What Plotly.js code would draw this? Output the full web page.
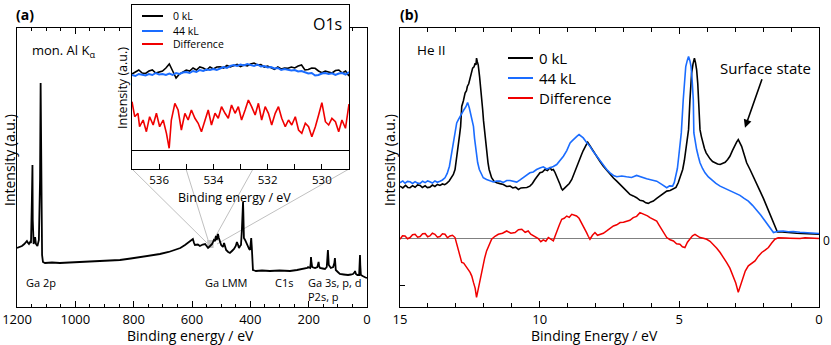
<!DOCTYPE html>
<html><head><meta charset="utf-8">
<script src="https://cdn.plot.ly/plotly-3.0.1.min.js"></script>
<style>html,body{margin:0;padding:0;background:#fff}#chart{width:831px;height:345px}</style>
</head><body><div id="chart"></div>
<script>
// ---------- Panel (a): survey spectrum (Binding energy eV, intensity a.u.) ----------
const surveyE = [1200,1190,1183,1175,1166,1162,1159,1155,1152,1149,1147,1146,1143,1140,1138,1135,1130,1125,1121,1119,1117,1114,1111,1104,1080,1053,1020,984,950,915,880,847,810,778,745,710,680,658,640,624,607,600,597,593,590,580,573,563,555,550,545,538,531,528,525,521,518,515,511,508,504,500,494,490,486,483,476,470,463,456,450,446,442,439,435,432,429,426,425,424,423,422,418,415,411,408,404,401,399,397,395,394,391,386,381,360,333,300,264,240,213,205,202,198,195,193,192,191,188,183,178,170,167,166,164,161,152,144,138,135,134,133,131,127,124,116,112,110,109,107,100,93,80,65,55,48,42,41,38,33,27,25,24,23,21,15,10,5,0];
const surveyI = [59,60,61,63,66,64,63,65,64,107,142,87,63,66,70,63,61,67,127,224,107,52,45,44,44.5,44,44.5,45,45.5,46,46.5,47,48.5,50,51,53,55,57,59,62,66,67,68,64,62,62.5,61,62.5,63,61,59,61,63,65,67,66,71,67,73,69,64,62,60,64,60,57,55,54,56,58,61,65,62,59,61,62,77,100,105,95,82,69,67,65,62,59,58,57,62,69,60,52,37,36.5,36,36.5,36,36.5,36,37,38,39,40,39.5,39,44,50,46,40,39.5,39,40,44,45,41,39,38.5,38,40,50,57,52,42,40,39,40,44,49,45,37,35,33,32.5,32,32.5,33,35,36,33,32,32,40,52,42,32,31,30,29.5,29];

// ---------- Inset: O1s region ----------
const o1sE = [537.000,536.875,536.750,536.625,536.500,536.375,536.250,536.125,536.000,535.875,535.750,535.625,535.500,535.375,535.250,535.125,535.000,534.875,534.750,534.625,534.500,534.375,534.250,534.125,534.000,533.875,533.750,533.625,533.500,533.375,533.250,533.125,533.000,532.875,532.750,532.625,532.500,532.375,532.250,532.125,532.000,531.875,531.750,531.625,531.500,531.375,531.250,531.125,531.000,530.875,530.750,530.625,530.500,530.375,530.250,530.125,530.000,529.875,529.750,529.625,529.500,529.375,529.250,529.125,529.000];
const o1s0kL = [76,78,80,77,76.5,79,80,77,78,79,82,86,79,72,76,78,80,79,82,80,83,82,80,83,81,83,83.3,82,84.5,83,84,85.5,83.5,85,84,86,87,85,85.5,83,84,82,80.7,83,81,82,81.7,83,82,84,85,80,80.5,82,81.7,79,77.3,79,78.3,77,79.5,80,77,79,74];
const o1s44kL = [75,74,76,75,74.5,76,75,77,75.5,76,75,76.5,75,77,76,77.5,78,77,79,78,80,79,80.5,80,81,80,81.7,83,82,84,85,84,85.5,84.5,86,85,84,85.5,83.5,84,82.5,83,81.5,82,80,81,80,79.5,80,78.5,79,78,76.5,77,74.5,75,76.5,77,76,76.7,75,76.5,77,75.5,78];
const o1sDiffE = [537.00,536.90,536.78,536.72,536.59,536.47,536.35,536.22,536.10,535.98,535.85,535.73,535.63,535.55,535.42,535.30,535.18,535.05,534.93,534.81,534.68,534.56,534.44,534.31,534.19,534.07,533.94,533.82,533.70,533.57,533.45,533.33,533.20,533.08,532.96,532.83,532.71,532.59,532.46,532.34,532.22,532.09,531.97,531.85,531.72,531.60,531.48,531.35,531.23,531.11,530.98,530.86,530.74,530.61,530.49,530.37,530.24,530.12,530.00,529.87,529.75,529.63,529.50,529.38,529.26,529.13,529.00];
const o1sDiff = [48.3,33.3,36.7,23.3,30,18.3,33.3,25,36.7,23.3,30,16.7,1.7,30,46.7,40,20,36.7,30,40,31.7,26.7,18.3,30,40,25,36.7,31.7,43.3,36.7,31.7,45,36.7,43.3,30,40,50,43.3,35,46.7,30,43.3,36.7,25,36.7,43.3,31.7,23.3,30,25,33.3,20,16.7,26.7,23.3,13.3,23.3,35,47.3,28.3,25,31.7,28.3,18.3,30,21.7,46];

// ---------- Panel (b): He II valence band ----------
const vb0E = [15.00,14.90,14.80,14.72,14.64,14.55,14.46,14.37,14.28,14.20,14.10,14.02,13.93,13.84,13.75,13.66,13.57,13.48,13.40,13.33,13.24,13.15,13.09,13.03,12.97,12.91,12.87,12.83,12.79,12.73,12.67,12.62,12.59,12.54,12.49,12.44,12.40,12.35,12.31,12.28,12.26,12.23,12.20,12.15,12.11,12.07,12.04,12.01,11.98,11.94,11.90,11.85,11.81,11.76,11.72,11.63,11.54,11.42,11.30,11.18,11.06,10.96,10.86,10.76,10.67,10.58,10.46,10.35,10.26,10.17,10.08,9.99,9.90,9.81,9.72,9.63,9.57,9.51,9.45,9.39,9.33,9.27,9.22,9.18,9.10,9.03,8.94,8.85,8.77,8.68,8.59,8.50,8.44,8.38,8.33,8.28,8.21,8.14,8.05,7.96,7.84,7.72,7.60,7.48,7.36,7.24,7.12,7.00,6.88,6.77,6.65,6.53,6.41,6.29,6.20,6.11,6.02,5.93,5.81,5.69,5.57,5.45,5.33,5.21,5.12,5.04,4.96,4.88,4.82,4.76,4.71,4.67,4.62,4.56,4.51,4.46,4.42,4.38,4.34,4.31,4.26,4.21,4.16,4.10,4.04,3.97,3.90,3.81,3.72,3.63,3.54,3.45,3.36,3.27,3.19,3.10,3.01,2.95,2.89,2.83,2.77,2.68,2.59,2.47,2.35,2.23,2.11,1.99,1.87,1.75,1.63,1.56,1.49,1.32,1.16,0.98,0.80,0.62,0.44,0.22,0.00];
const vb0I = [52.3,50.5,53.0,51.0,50.7,52.8,51.2,53.5,53.0,51.0,52.6,50.8,51.3,53.4,52.0,54.0,53.0,54.5,53.8,55.0,57.5,60.7,64.0,69.0,80.0,92.3,103.0,112.3,132.3,138.0,145.7,148.0,152.3,155.0,160.7,165.0,170.7,172.0,175.7,174.0,180.7,177.0,174.0,162.0,152.3,140.0,129.0,118.0,109.0,96.0,85.7,76.0,69.0,64.0,60.7,57.0,55.7,54.8,54.0,52.0,52.3,50.5,51.2,49.0,50.5,50.7,51.0,52.3,55.0,59.0,62.0,65.7,66.5,69.0,68.0,70.7,68.5,69.0,66.0,62.3,57.0,54.0,50.0,48.3,50.5,52.3,55.0,59.0,65.0,72.3,78.0,84.0,88.0,92.3,94.0,96.3,93.0,90.7,86.0,82.3,77.0,72.3,68.0,64.0,60.5,57.3,54.0,50.7,47.0,44.0,42.5,40.7,38.0,37.3,35.5,35.0,36.5,37.3,40.0,42.3,45.0,47.3,48.0,49.7,51.0,55.7,62.0,69.0,78.0,89.0,100.0,109.0,139.0,165.7,175.0,180.7,176.0,169.0,155.0,139.0,109.0,102.0,95.7,90.0,85.7,82.0,79.7,77.0,75.7,74.5,74.0,75.5,76.3,79.0,82.3,88.0,94.0,96.5,99.0,96.0,92.3,84.0,75.7,69.0,62.3,55.0,47.3,40.0,32.3,24.0,15.7,11.0,6.3,6.2,5.7,5.4,5.0,4.8,4.7,4.3,4.0];
const vb44E = [15.00,14.90,14.82,14.73,14.64,14.55,14.46,14.37,14.28,14.19,14.10,14.01,13.93,13.84,13.75,13.66,13.57,13.48,13.39,13.31,13.23,13.17,13.11,13.07,13.03,12.97,12.91,12.85,12.78,12.71,12.64,12.58,12.52,12.47,12.42,12.37,12.33,12.28,12.22,12.16,12.09,12.02,11.90,11.78,11.66,11.54,11.42,11.30,11.18,11.06,10.94,10.82,10.70,10.58,10.46,10.35,10.23,10.11,9.99,9.87,9.75,9.63,9.51,9.39,9.27,9.15,9.03,8.91,8.83,8.74,8.66,8.59,8.52,8.44,8.32,8.20,8.08,7.96,7.84,7.72,7.60,7.48,7.36,7.24,7.06,6.89,6.71,6.53,6.35,6.17,5.99,5.81,5.63,5.45,5.35,5.24,5.18,5.12,5.07,5.02,4.97,4.93,4.86,4.77,4.72,4.67,4.62,4.58,4.54,4.50,4.48,4.43,4.38,4.32,4.26,4.17,4.08,3.96,3.84,3.69,3.54,3.37,3.19,3.01,2.83,2.68,2.53,2.38,2.23,2.08,1.93,1.78,1.63,1.46,1.28,1.10,0.92,0.68,0.44,0.22,0.00];
const vb44I = [55.7,57.5,55.2,57.0,56.7,55.0,56.8,55.3,55.0,57.2,55.8,57.5,56.7,55.4,57.5,56.2,57.3,58.5,60.7,65.0,72.3,82.0,92.3,99.0,105.7,115.7,119.0,122.3,126.0,129.0,132.0,136.3,131.0,124.0,118.0,112.3,100.0,85.7,76.0,69.0,64.0,60.7,59.0,58.0,56.5,57.5,57.3,56.0,58.0,58.0,57.0,56.3,58.5,60.7,63.0,65.7,66.5,69.0,70.5,71.7,69.5,70.7,72.0,74.0,78.0,82.3,88.0,95.7,98.0,100.7,102.5,104.0,102.0,100.7,96.0,92.3,87.0,82.3,78.0,74.0,69.0,65.7,63.0,61.7,62.5,61.7,61.0,63.0,61.0,59.7,58.5,57.3,54.0,50.7,52.5,52.3,56.0,62.3,70.0,82.3,94.0,105.7,139.0,172.3,178.0,182.3,178.0,172.3,158.0,139.0,105.7,96.0,89.0,82.0,75.7,70.0,65.7,61.5,58.3,55.0,52.3,50.0,47.3,45.0,43.0,40.0,37.3,33.0,28.3,23.0,17.3,11.0,5.7,7.0,7.3,6.5,6.7,6.0,5.7,5.2,4.7];
const vbDiffE = [15.00,14.91,14.82,14.73,14.64,14.55,14.46,14.37,14.28,14.19,14.10,14.01,13.93,13.84,13.75,13.66,13.57,13.48,13.39,13.30,13.21,13.12,13.03,12.97,12.91,12.85,12.79,12.72,12.64,12.57,12.49,12.43,12.37,12.31,12.26,12.21,12.16,12.10,12.04,11.97,11.90,11.81,11.72,11.60,11.48,11.33,11.18,11.03,10.88,10.76,10.64,10.52,10.41,10.32,10.23,10.14,10.05,9.96,9.87,9.78,9.69,9.60,9.51,9.45,9.39,9.30,9.21,9.12,9.03,8.94,8.85,8.76,8.68,8.59,8.50,8.41,8.32,8.26,8.20,8.11,8.02,7.93,7.84,7.72,7.60,7.48,7.36,7.24,7.12,7.00,6.89,6.77,6.65,6.53,6.41,6.32,6.23,6.14,6.05,5.93,5.81,5.72,5.63,5.54,5.45,5.33,5.21,5.10,4.98,4.89,4.80,4.71,4.62,4.53,4.44,4.35,4.26,4.14,4.02,3.90,3.78,3.66,3.54,3.42,3.31,3.19,3.07,2.98,2.89,2.82,2.74,2.64,2.53,2.41,2.29,2.17,2.05,1.93,1.81,1.70,1.58,1.46,1.34,1.19,1.04,0.86,0.68,0.50,0.32,0.16,0.00];
const vbDiff = [-1.0,2.5,2.3,-0.5,0.7,3.5,4.0,1.0,1.7,4.5,4.7,1.5,2.3,5.0,4.0,1.0,1.7,4.5,4.0,0.5,2.3,3.0,0.7,-5.0,-11.0,-18.0,-24.3,-25.0,-27.7,-31.0,-34.3,-38.0,-44.3,-50.0,-59.3,-52.0,-44.3,-36.0,-27.7,-20.0,-12.7,-6.0,-1.0,2.0,4.0,5.0,7.3,5.0,5.7,8.5,9.0,6.0,7.3,4.0,2.3,1.5,-0.3,-3.5,-1.7,-3.0,0.7,-1.0,-2.7,2.0,7.3,13.0,19.0,20.0,22.3,21.0,24.0,23.5,22.3,20.0,15.7,10.0,5.7,2.0,-1.0,3.0,5.7,3.0,4.0,5.0,7.3,10.0,12.3,13.5,15.7,16.0,17.3,18.0,20.7,22.0,25.7,24.5,24.0,22.5,20.7,19.0,17.3,13.0,9.0,4.0,0.7,-1.5,-2.7,-5.5,-6.0,-8.5,-9.3,-4.0,-1.0,2.5,4.0,2.0,0.7,0.0,-1.0,-3.0,-6.0,-10.0,-14.3,-19.0,-24.3,-30.0,-37.7,-45.0,-54.3,-48.0,-41.0,-33.0,-27.7,-25.0,-22.7,-18.0,-14.3,-12.0,-9.3,-5.0,-1.0,0.5,0.7,0.2,0.0,-0.5,-0.3,0.4,0.3,-0.2,-0.3];

const seriesNames = ['0 kL', '44 kL', 'Difference'];
const xTickLabelsB = ['15','10','5','0'];

// ---------- styling / layout ----------
const W = 831, H = 345;
const BLACK = '#000000', BLUE = '#1a6cff', RED = '#f00000';
const FONT = 'Open Sans, DejaVu Sans, sans-serif';
const px = v => v / W, py = v => 1 - v / H;

const traces = [
  {x: surveyE, y: surveyI, xaxis: 'x', yaxis: 'y', mode: 'lines', line: {color: BLACK, width: 1.8}, name: 'survey'},
  {x: vb0E, y: vb0I, xaxis: 'x2', yaxis: 'y2', mode: 'lines', line: {color: BLACK, width: 1.6}, name: seriesNames[0]},
  {x: vb44E, y: vb44I, xaxis: 'x2', yaxis: 'y2', mode: 'lines', line: {color: BLUE, width: 1.6}, name: seriesNames[1]},
  {x: vbDiffE, y: vbDiff, xaxis: 'x2', yaxis: 'y2', mode: 'lines', line: {color: RED, width: 1.5}, name: seriesNames[2]},
  {x: o1sE, y: o1s0kL, xaxis: 'x3', yaxis: 'y3', mode: 'lines', line: {color: BLACK, width: 1.6}, name: seriesNames[0]},
  {x: o1sE, y: o1s44kL, xaxis: 'x3', yaxis: 'y3', mode: 'lines', line: {color: BLUE, width: 2}, name: seriesNames[1]},
  {x: o1sDiffE, y: o1sDiff, xaxis: 'x3', yaxis: 'y3', mode: 'lines', line: {color: RED, width: 1.6}, name: seriesNames[2]}
];

const base = {showgrid: false, zeroline: false, showline: true, linecolor: '#000', linewidth: 1,
              ticks: 'inside', tickcolor: '#000', fixedrange: true, tickfont: {size: 13, family: FONT, color: '#000'}};
const yDom = [1 - 307 / H, 1 - 28 / H];

function ann(text, x, y, o) {
  return Object.assign({text, x: px(x), y: py(y), xref: 'paper', yref: 'paper', showarrow: false,
    xanchor: 'center', yanchor: 'middle', font: {size: 11, family: FONT, color: '#000'}}, o || {});
}
function seg(x0, y0, x1, y1, color, w, layer) {
  return {type: 'line', xref: 'paper', yref: 'paper', x0: px(x0), y0: py(y0), x1: px(x1), y1: py(y1),
    line: {color, width: w}, layer: layer || 'above'};
}

const layout = {
  width: W, height: H, margin: {l: 0, r: 0, t: 0, b: 0},
  paper_bgcolor: '#fff', plot_bgcolor: '#fff', showlegend: false,
  font: {family: FONT, color: '#000'},
  xaxis: Object.assign({}, base, {domain: [px(17), px(367)], range: [1200, 0], tick0: 0, dtick: 200, ticklen: 6,
    mirror: 'ticks', anchor: 'y', minor: {dtick: 50, ticklen: 3, ticks: 'inside', tickcolor: '#000'}}),
  yaxis: Object.assign({}, base, {domain: yDom, range: [0, 279], ticks: '', showticklabels: false, mirror: true, anchor: 'x'}),
  xaxis2: Object.assign({}, base, {domain: [px(400), px(819)], range: [15, 0], tickvals: [15, 10, 5, 0], ticktext: xTickLabelsB, ticklen: 6,
    mirror: 'ticks', anchor: 'y2', minor: {dtick: 1, ticklen: 4, ticks: 'inside', tickcolor: '#000'}}),
  yaxis2: Object.assign({}, base, {domain: yDom, range: [-69, 211], zeroline: true, zerolinecolor: '#808080', zerolinewidth: 1,
    tickvals: [-47], ticklen: 5, showticklabels: false, mirror: true, anchor: 'x2'}),
  xaxis3: Object.assign({}, base, {domain: [px(132), px(349)], range: [537, 529], tick0: 0, dtick: 2, ticklen: 5,
    mirror: true, anchor: 'y3', tickfont: {size: 11.5, family: FONT, color: '#000'},
    minor: {dtick: 1, ticklen: 5, ticks: 'inside', tickcolor: '#000'}}),
  yaxis3: Object.assign({}, base, {domain: [1 - 169 / H, 1 - 5 / H], range: [-19, 145], zeroline: true, zerolinecolor: '#000', zerolinewidth: 1,
    ticks: '', showticklabels: false, mirror: true, anchor: 'x3'}),
  shapes: [
    // zoom-region marker on the survey and connector lines to the inset
    {type: 'rect', xref: 'x', yref: 'y', x0: 548, x1: 526, y0: 59, y1: 67, fillcolor: '#c4c4c4', line: {width: 0}, layer: 'below'},
    seg(132, 169, 207, 243, '#c0c0c0', 1, 'below'),
    seg(186, 169, 209, 243, '#c0c0c0', 1, 'below'),
    seg(253, 169, 213, 241, '#c0c0c0', 1, 'below'),
    seg(349, 169, 217, 244, '#c0c0c0', 1, 'below'),
    // inset legend swatches
    seg(142, 16, 163, 16, BLACK, 2), seg(142, 31, 163, 31, BLUE, 2), seg(142, 44, 163, 44, RED, 2),
    // panel (b) legend swatches
    seg(508, 58, 533, 58, BLACK, 2), seg(508, 78, 533, 78, BLUE, 2), seg(508, 98, 533, 98, RED, 2)
  ],
  annotations: [
    ann('<b>(a)</b>', 25, 14, {font: {size: 14, family: FONT, color: '#000'}}),
    ann('<b>(b)</b>', 409, 14, {font: {size: 14, family: FONT, color: '#000'}}),
    ann('mon. Al K<sub>α</sub>', 30, 51, {xanchor: 'left', font: {size: 13, family: FONT, color: '#000'}}),
    ann('Intensity (a.u.)', 9, 160, {textangle: -90, font: {size: 14, family: FONT, color: '#000'}}),
    ann('Binding energy / eV', 190, 335, {font: {size: 14, family: FONT, color: '#000'}}),
    ann('Ga 2p', 41, 282), ann('Ga LMM', 227, 282), ann('C1s', 284, 282),
    ann('Ga 3s, p, d', 306, 282, {xanchor: 'left'}), ann('P2s, p', 306, 296, {xanchor: 'left'}),
    // inset texts
    ann('O1s', 327, 24, {font: {size: 16, family: FONT, color: '#000'}}),
    ann(seriesNames[0], 171, 16, {xanchor: 'left', font: {size: 10.5, family: FONT, color: '#000'}}),
    ann(seriesNames[1], 171, 31, {xanchor: 'left', font: {size: 10.5, family: FONT, color: '#000'}}),
    ann(seriesNames[2], 171, 44, {xanchor: 'left', font: {size: 10.5, family: FONT, color: '#000'}}),
    ann('Intensity (a.u.)', 123, 88, {textangle: -90, font: {size: 12.5, family: FONT, color: '#000'}}),
    ann('Binding energy / eV', 234, 197, {font: {size: 12.5, family: FONT, color: '#000'}}),
    // panel (b) texts
    ann('He II', 415, 50, {xanchor: 'left', font: {size: 13.5, family: FONT, color: '#000'}}),
    ann(seriesNames[0], 537, 58, {xanchor: 'left', font: {size: 15, family: FONT, color: '#000'}}),
    ann(seriesNames[1], 537, 78, {xanchor: 'left', font: {size: 15, family: FONT, color: '#000'}}),
    ann(seriesNames[2], 537, 98, {xanchor: 'left', font: {size: 15, family: FONT, color: '#000'}}),
    ann('Intensity (a.u.)', 389, 160, {textangle: -90, font: {size: 14, family: FONT, color: '#000'}}),
    ann('Binding Energy / eV', 594, 335, {font: {size: 14, family: FONT, color: '#000'}}),
    ann('0', 826, 240, {font: {size: 12, family: FONT, color: '#000'}}),
    {text: 'Surface state', xref: 'x2', yref: 'y2', x: 2.65, y: 111, ax: 21, ay: -60, showarrow: true,
     arrowhead: 2, arrowsize: 1, arrowwidth: 1.6, arrowcolor: '#000', standoff: 0,
     font: {size: 15, family: FONT, color: '#000'}}
  ]
};

Plotly.newPlot('chart', traces, layout, {displayModeBar: false, staticPlot: true});
</script></body></html>
